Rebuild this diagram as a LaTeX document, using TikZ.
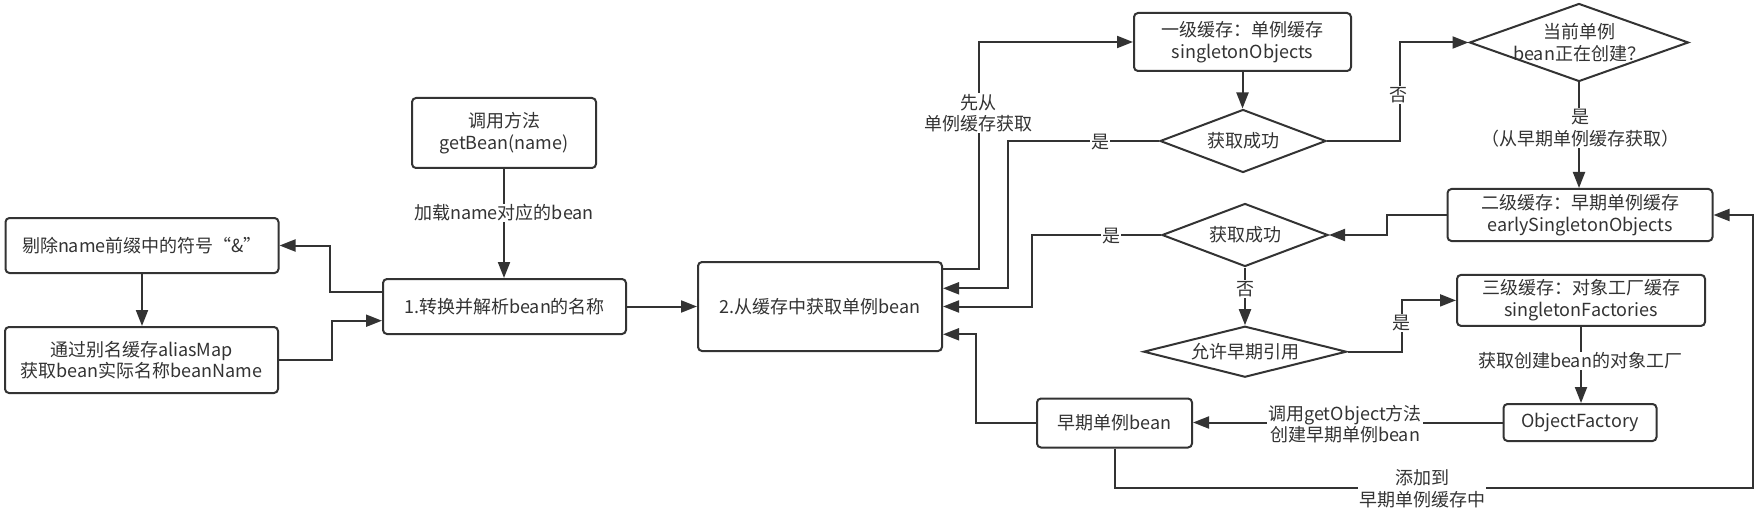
\documentclass[tikz,border=0pt]{standalone}
\usepackage{fontspec}
\setmainfont{Noto Sans CJK SC}
\usetikzlibrary{arrows.meta,shapes.geometric,calc}
\definecolor{ln}{HTML}{333333}
\begin{document}
\begin{tikzpicture}[x=1pt,y=-1pt,
  font=\fontsize{18}{21.6}\selectfont,
  box/.style={draw=ln, line width=2pt, rounded corners=4pt, fill=white, align=center, inner sep=0pt, text=ln},
  dia/.style={draw=ln, line width=2pt, diamond, inner sep=0pt, fill=white},
  dtext/.style={align=center, text=ln, inner sep=0pt},
  arr/.style={draw=ln, line width=2pt, -{Triangle[length=16pt,width=12pt]}},
  plain/.style={draw=ln, line width=2pt},
  lbl/.style={fill=white, inner sep=1pt, align=center, text=ln}]
\fill[white] (0,0) rectangle (1760,513);
\useasboundingbox (0,0) rectangle (1760,513);

% boxes
\node[box, minimum width=273pt, minimum height=55pt] (skip) at (142,245.5) {剔除name前缀中的符号“\&”};
\node[box, minimum width=273pt, minimum height=66pt] (alias) at (141.5,360) {通过别名缓存aliasMap\\获取bean实际名称beanName};
\node[box, minimum width=184pt, minimum height=70pt] (getbean) at (504,133) {调用方法\\getBean(name)};
\node[box, minimum width=243pt, minimum height=55pt] (conv) at (504.5,306.5) {1.转换并解析bean的名称};
\node[box, minimum width=244pt, minimum height=89pt] (get) at (820,306.5) {2.从缓存中获取单例bean};
\node[box, minimum width=217pt, minimum height=58pt] (L1) at (1242.5,42) {一级缓存：单例缓存\\singletonObjects};
\node[dia, minimum width=166pt, minimum height=63pt, label={[dtext]center:获取成功}] (d1) at (1243,141) {};
\node[dia, minimum width=219pt, minimum height=78pt, label={[dtext]center:当前单例\\bean正在创建？}] (cur) at (1579,42.5) {};
\node[box, minimum width=265pt, minimum height=52pt] (L2) at (1580,215) {二级缓存：早期单例缓存\\earlySingletonObjects};
\node[dia, minimum width=166pt, minimum height=63pt, label={[dtext]center:获取成功}] (d2) at (1245,235) {};
\node[dia, minimum width=203pt, minimum height=51pt, label={[dtext]center:允许早期引用}] (allow) at (1245,351.7) {};
\node[box, minimum width=248pt, minimum height=51pt] (L3) at (1581,300.4) {三级缓存：对象工厂缓存\\singletonFactories};
\node[box, minimum width=153pt, minimum height=37pt] (OF) at (1580,422.5) {ObjectFactory};
\node[box, minimum width=155pt, minimum height=49pt] (early) at (1114.5,423) {早期单例bean};
\coordinate (loopc) at (1753.4,487.7);

% connectors
\draw[arr] (getbean.south) -- (getbean.south |- conv.north);
\draw[arr] (conv.east) -- (get.west);
\draw[arr] ([yshift=14.5pt]conv.west) -- ++(-52,0) |- (skip.east);
\draw[arr] (alias.east) -- ++(52.7,0) |- ([yshift=-14.2pt]conv.west);
\draw[arr] (skip.south) -- (skip.south |- alias.north);
\draw[arr] ([yshift=37.2pt]get.east) -- ++(35.6,0) |- (L1.west);
\draw[arr] (d1.west) -| ([xshift=65pt,yshift=18.2pt]get.east) -- ([yshift=18.2pt]get.east);
\draw[arr] (d2.west) -| ([xshift=89pt]get.east) -- (get.east);
\draw[arr] (early.west) -| ([xshift=33pt,yshift=-27.8pt]get.east) -- ([yshift=-27.8pt]get.east);
\draw[arr] (L1.south) -- (L1.south |- d1.north);
\draw[arr] (d1.east) -- ++(73,0) |- (cur.west);
\draw[arr] (cur.south) -- (cur.south |- L2.north);
\draw[arr] (L2.west) -- ++(-59.5,0) |- (d2.east);
\draw[arr] (d2.south) -- (d2.south |- allow.north);
\draw[arr] (allow.east) -- ++(54.5,0) |- (L3.west);
\draw[arr] (L3.south) -- (L3.south |- OF.north);
\draw[arr] (OF.west) -- (OF.west -| early.east);
\draw[arr] (early.south) |- (loopc) |- (L2.east);

% labels
\node[lbl] (lload) at (504,213) {加载name对应的bean};
\node[lbl] (lfirst) at (978,113) {先从\\单例缓存获取};
\node[lbl] (lyes1) at (1100,142) {是};
\node[lbl] (lyes2) at (1111,236) {是};
\node[lbl] (lno1) at (1398,95) {否};
\node[lbl] (lyes3) at (1580,128) {是\\（从早期单例缓存获取）};
\node[lbl] (lno2) at (1245,289) {否};
\node[lbl] (lyes4) at (1401,323) {是};
\node[lbl] (lfac) at (1580,361) {获取创建bean的对象工厂};
\node[lbl] (lgetobj) at (1345,424) {调用getObject方法\\创建早期单例bean};
\node[lbl] (ladd) at (1422,489) {添加到\\早期单例缓存中};
\end{tikzpicture}
\end{document}
